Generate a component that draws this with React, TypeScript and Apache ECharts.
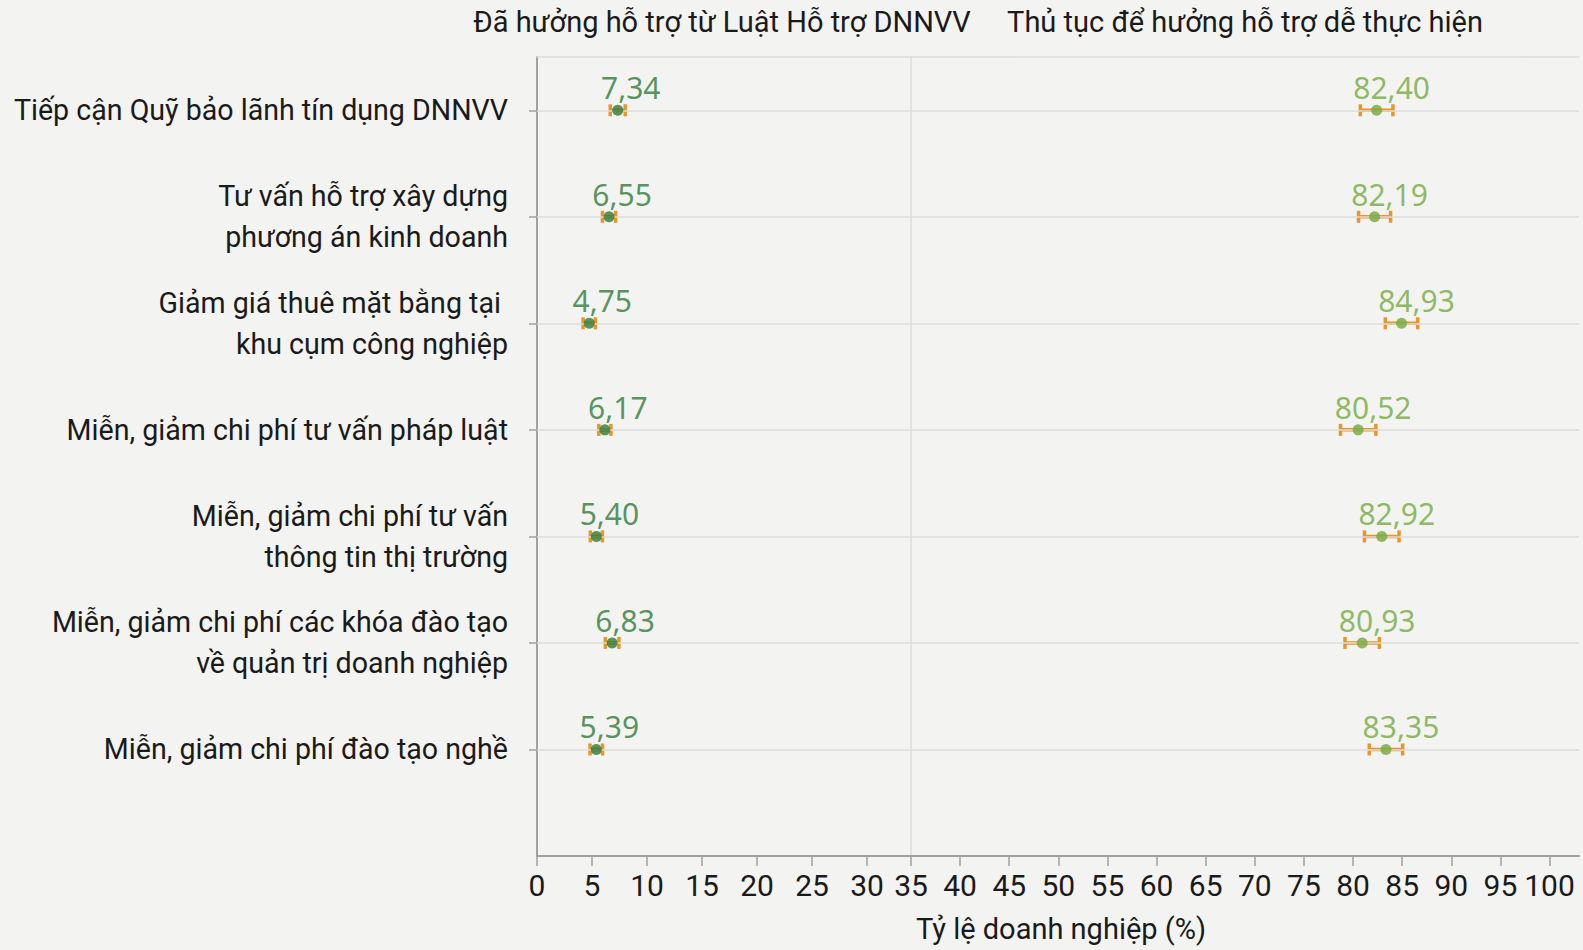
import React, { useEffect, useRef } from "react";
import * as echarts from "echarts";

const categories = [
  "Tiếp cận Quỹ bảo lãnh tín dụng DNNVV",
  "Tư vấn hỗ trợ xây dựng\nphương án kinh doanh",
  "Giảm giá thuê mặt bằng tại \nkhu cụm công nghiệp",
  "Miễn, giảm chi phí tư vấn pháp luật",
  "Miễn, giảm chi phí tư vấn\nthông tin thị trường",
  "Miễn, giảm chi phí các khóa đào tạo\nvề quản trị doanh nghiệp",
  "Miễn, giảm chi phí đào tạo nghề",
];
const rowPositions = [1, 2, 3, 4, 5, 6, 7];

const receivedValues = [7.34, 6.55, 4.75, 6.17, 5.4, 6.83, 5.39];
const receivedErr = [0.68, 0.6, 0.56, 0.55, 0.55, 0.62, 0.57];
const easyValues = [82.4, 82.19, 84.93, 80.52, 82.92, 80.93, 83.35];
const easyErr = [1.66, 1.63, 1.65, 1.8, 1.76, 1.75, 1.7];

const leftTicks = [0, 5, 10, 15, 20, 25, 30];
const rightTicks = [35, 40, 45, 50, 55, 60, 65, 70, 75, 80, 85, 90, 95, 100];

const leftTitle = "Đã hưởng hỗ trợ từ Luật Hỗ trợ DNNVV";
const rightTitle = "Thủ tục để hưởng hỗ trợ dễ thực hiện";
const xAxisTitle = "Tỷ lệ doanh nghiệp (%)";

const AXIS_FONT = "Roboto, 'Noto Sans', sans-serif";
const NUM_FONT = "'Noto Sans', 'Open Sans', sans-serif";
const ORANGE = "#e8952c";
const DARK_GREEN = "#2f7a36";
const LIGHT_GREEN = "#74aa3f";

const fmt = (v: number) => v.toFixed(2).replace(".", ",");

function errorBarRender(params: any, api: any) {
  const lo = api.coord([api.value(0), api.value(2)]);
  const hi = api.coord([api.value(1), api.value(2)]);
  const h = 6;
  const style = { stroke: ORANGE, lineWidth: 3.5 };
  return {
    type: "group",
    children: [
      { type: "line", shape: { x1: lo[0], y1: lo[1], x2: hi[0], y2: hi[1] }, style },
      { type: "line", shape: { x1: lo[0], y1: lo[1] - h, x2: lo[0], y2: lo[1] + h }, style },
      { type: "line", shape: { x1: hi[0], y1: hi[1] - h, x2: hi[0], y2: hi[1] + h }, style },
    ],
  };
}

export default function App() {
  const ref = useRef<HTMLDivElement>(null);

  useEffect(() => {
    if (!ref.current) return;
    const chart = echarts.init(ref.current, undefined, { renderer: "svg" });

    const gridLines = {
      silent: true,
      symbol: "none",
      label: { show: false },
      lineStyle: { color: "#dcdcdc", width: 1.5, type: "solid" },
      data: rowPositions.map((r) => ({ yAxis: r })),
    };

    const bottomXAxis = (gridIndex: number, min: number, max: number, ticks: number[]) => ({
      type: "value",
      gridIndex,
      min,
      max,
      position: "bottom",
      splitLine: { show: false },
      axisLine: { show: true, lineStyle: { color: "#a0a0a0", width: 2 } },
      axisTick: { show: true, length: 10, customValues: ticks, lineStyle: { color: "#a0a0a0", width: 1.5 } },
      axisLabel: {
        show: true,
        customValues: ticks,
        margin: 14,
        fontFamily: AXIS_FONT,
        fontSize: 30,
        color: "#1a1a1a",
      },
    });

    const topXAxis = (gridIndex: number, min: number, max: number) => ({
      type: "value",
      gridIndex,
      min,
      max,
      position: "top",
      splitLine: { show: false },
      axisLine: { show: true, lineStyle: { color: "#dcdcdc", width: 1.5 } },
      axisTick: { show: false },
      axisLabel: { show: false },
    });

    const titleStyle = (text: string) => ({
      text,
      fontFamily: AXIS_FONT,
      fontSize: 29,
      fill: "#1a1a1a",
      align: "center",
      verticalAlign: "middle",
    });

    const option: any = {
      animation: false,
      backgroundColor: "#f3f3f1",
      grid: [
        { left: 537, top: 57, width: 374, height: 799 },
        { left: 911, top: 57, width: 668, height: 799 },
      ],
      xAxis: [
        bottomXAxis(0, 0, 34, leftTicks),
        bottomXAxis(1, 35, 103, rightTicks),
        topXAxis(0, 0, 34),
        topXAxis(1, 35, 103),
      ],
      yAxis: [
        {
          type: "value",
          gridIndex: 0,
          min: 0.5,
          max: 8,
          inverse: true,
          splitLine: { show: false },
          axisLine: { show: true, lineStyle: { color: "#a0a0a0", width: 2 } },
          axisTick: {
            show: true,
            length: 8,
            customValues: rowPositions,
            lineStyle: { color: "#a0a0a0", width: 1.5 },
          },
          axisLabel: {
            show: true,
            customValues: rowPositions,
            formatter: (v: number) => categories[Math.round(v) - 1] ?? "",
            margin: 29,
            align: "right",
            fontFamily: AXIS_FONT,
            fontSize: 28.6,
            lineHeight: 41,
            color: "#1a1a1a",
          },
        },
        {
          type: "value",
          gridIndex: 1,
          min: 0.5,
          max: 8,
          inverse: true,
          splitLine: { show: false },
          axisLine: { show: true, lineStyle: { color: "#dcdcdc", width: 1.5 } },
          axisTick: { show: false },
          axisLabel: { show: false },
        },
      ],
      graphic: [
        { type: "text", x: 722, y: 22, style: titleStyle(leftTitle) },
        { type: "text", x: 1245, y: 22, style: titleStyle(rightTitle) },
        { type: "text", x: 1061, y: 929, style: titleStyle(xAxisTitle) },
      ],
      series: [
        {
          type: "custom",
          name: "err-left",
          xAxisIndex: 0,
          yAxisIndex: 0,
          z: 2,
          renderItem: errorBarRender,
          encode: { x: [0, 1], y: 2 },
          data: receivedValues.map((v, i) => [v - receivedErr[i], v + receivedErr[i], rowPositions[i]]),
          markLine: gridLines,
        },
        {
          type: "custom",
          name: "err-right",
          xAxisIndex: 1,
          yAxisIndex: 1,
          z: 2,
          renderItem: errorBarRender,
          encode: { x: [0, 1], y: 2 },
          data: easyValues.map((v, i) => [v - easyErr[i], v + easyErr[i], rowPositions[i]]),
          markLine: gridLines,
        },
        {
          type: "scatter",
          name: "Đã hưởng hỗ trợ",
          xAxisIndex: 0,
          yAxisIndex: 0,
          z: 5,
          symbolSize: 11,
          itemStyle: { color: DARK_GREEN },
          label: {
            show: true,
            position: "top",
            distance: 4,
            offset: [13, 2],
            formatter: (p: any) => fmt(p.value[0]),
            fontFamily: NUM_FONT,
            fontSize: 30,
            color: DARK_GREEN,
          },
          data: receivedValues.map((v, i) => [v, rowPositions[i]]),
        },
        {
          type: "scatter",
          name: "Dễ thực hiện",
          xAxisIndex: 1,
          yAxisIndex: 1,
          z: 5,
          symbolSize: 11,
          itemStyle: { color: LIGHT_GREEN },
          label: {
            show: true,
            position: "top",
            distance: 4,
            offset: [15, 2],
            formatter: (p: any) => fmt(p.value[0]),
            fontFamily: NUM_FONT,
            fontSize: 30,
            color: LIGHT_GREEN,
          },
          data: easyValues.map((v, i) => [v, rowPositions[i]]),
        },
      ],
    };

    chart.setOption(option);
    return () => chart.dispose();
  }, []);

  return (
    <div
      ref={ref}
      style={{ position: "absolute", left: 0, top: 0, width: 1583, height: 950 }}
    />
  );
}
